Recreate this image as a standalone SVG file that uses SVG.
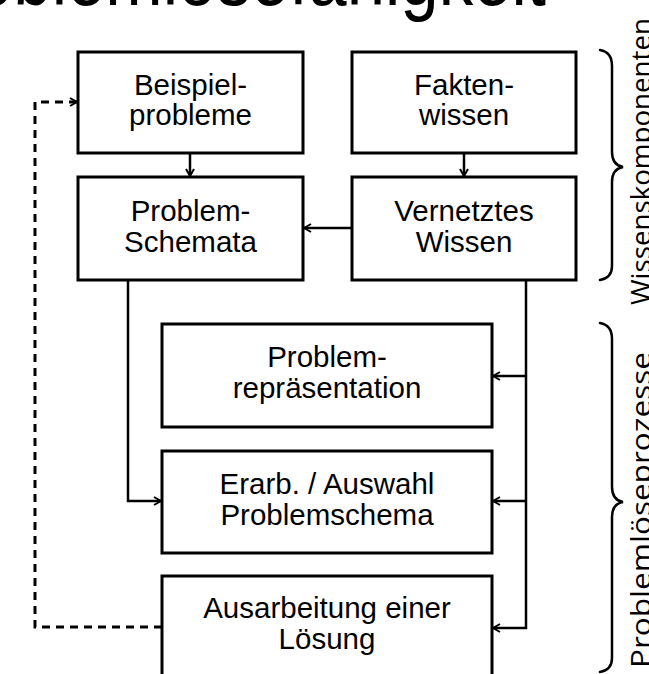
<svg xmlns="http://www.w3.org/2000/svg" width="649" height="674" viewBox="0 0 649 674">
<style>
.box{fill:#fff;stroke:#000;stroke-width:3}
.t{font-family:"Liberation Sans",Arial,sans-serif;font-size:29.5px;text-anchor:middle;fill:#000}
.c{fill:none;stroke:#000;stroke-width:2.5}
.d{fill:none;stroke:#000;stroke-width:3;stroke-dasharray:8,6}
.br{fill:none;stroke:#000;stroke-width:2.5;stroke-linecap:round}
.lab{font-family:"Open Sans","Noto Sans",sans-serif;font-size:27px;fill:#000}
</style>
<defs>
<marker id="ah" viewBox="0 0 10 10" refX="9" refY="5" markerWidth="10" markerHeight="10" markerUnits="userSpaceOnUse" orient="auto">
<path d="M2,1 L9,5 L2,9" fill="none" stroke="#000" stroke-width="2"/>
</marker>
</defs>
<rect width="649" height="674" fill="#fff"/>
<text id="title" x="-94" y="5" textLength="640" lengthAdjust="spacingAndGlyphs" font-family="Liberation Sans, Arial, sans-serif" font-size="84">Problemlösefähigkeit</text>
<g id="connectors">
<line class="c" x1="190" y1="153" x2="190" y2="176" marker-end="url(#ah)"/>
<line class="c" x1="464" y1="153" x2="464" y2="176" marker-end="url(#ah)"/>
<line class="c" x1="352" y1="228" x2="304" y2="228" marker-end="url(#ah)"/>
<polyline class="c" points="128,280 128,501 161,501" marker-end="url(#ah)"/>
<polyline class="c" points="526,280 526,628 493,628" marker-end="url(#ah)"/>
<line class="c" x1="526" y1="376" x2="493" y2="376" marker-end="url(#ah)"/>
<line class="c" x1="526" y1="501" x2="493" y2="501" marker-end="url(#ah)"/>
<polyline class="d" points="162,627 35,627 35,102 77,102" marker-end="url(#ah)"/>
</g>
<g id="beispielprobleme">
<rect class="box" x="78" y="52" width="225" height="101"/>
<text class="t" x="190.5" y="95">Beispiel-</text>
<text class="t" x="190.5" y="125">probleme</text>
</g>
<g id="faktenwissen">
<rect class="box" x="352" y="52" width="224" height="101"/>
<text class="t" x="464" y="95">Fakten-</text>
<text class="t" x="464" y="125">wissen</text>
</g>
<g id="problemschemata">
<rect class="box" x="78" y="177" width="225" height="103"/>
<text class="t" x="190.5" y="221">Problem-</text>
<text class="t" x="190.5" y="252">Schemata</text>
</g>
<g id="vernetztes">
<rect class="box" x="352" y="177" width="224" height="103"/>
<text class="t" x="464" y="221">Vernetztes</text>
<text class="t" x="464" y="252">Wissen</text>
</g>
<g id="repraesentation">
<rect class="box" x="162" y="324" width="330" height="103"/>
<text class="t" x="327" y="367">Problem-</text>
<text class="t" x="327" y="398">repräsentation</text>
</g>
<g id="erarb">
<rect class="box" x="162" y="451" width="330" height="102"/>
<text class="t" x="327" y="494">Erarb. / Auswahl</text>
<text class="t" x="327" y="525">Problemschema</text>
</g>
<g id="ausarbeitung">
<rect class="box" x="162" y="576" width="330" height="110"/>
<text class="t" x="327" y="618">Ausarbeitung einer</text>
<text class="t" x="327" y="649">Lösung</text>
</g>
<g id="wissenskomponenten">
<path class="br" d="M600,50 Q612,52 612,66 L612,152 Q612,165 623,167 Q612,169 612,182 L612,266 Q612,278 600,280"/>
<text class="lab" transform="translate(651,305) rotate(-90)" textLength="287" lengthAdjust="spacingAndGlyphs">Wissenskomponenten</text>
</g>
<g id="problemloeseprozesse">
<path class="br" d="M600,323 Q612,325 612,339 L612,487 Q612,500 623,502 Q612,504 612,517 L612,658 Q612,670 600,672"/>
<text class="lab" transform="translate(651,668) rotate(-90)" textLength="316" lengthAdjust="spacingAndGlyphs">Problemlöseprozesse</text>
</g>
</svg>
